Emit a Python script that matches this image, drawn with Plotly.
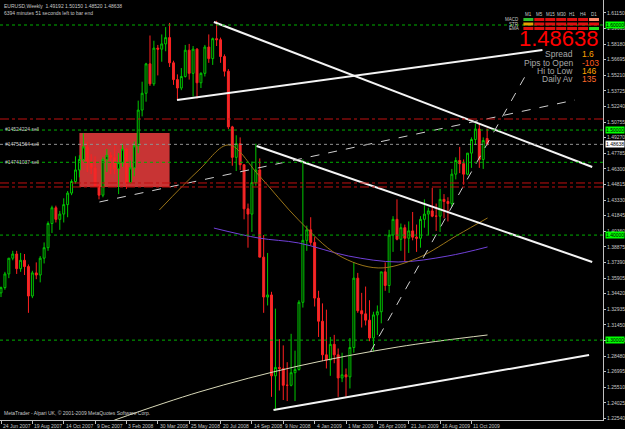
import plotly.graph_objects as go

# ---------------- data ----------------
opens = [1.3450,1.3500,1.3630,1.3780,1.3820,1.3680,1.3760,1.3700,1.3420,1.3640,1.3620,1.3780,1.3880,1.4110,1.4260,1.4150,1.4200,1.4290,1.4400,1.4510,1.4620,1.4720,1.4840,1.4700,1.4640,1.4470,1.4380,1.4720,
         1.4760,1.4740,1.4630,1.4690,1.4820,1.4500,1.4640,1.4850,1.5190,1.5350,1.5630,1.5440,1.5780,1.5770,1.5820,1.5880,1.5640,1.5480,1.5400,1.5510,1.5760,1.5540,1.5770,1.5450,1.5540,1.5790,1.5680,1.5870,1.5860,1.5700,
         1.5560,1.5030,1.4740,1.4870,1.4670,1.4250,1.4200,1.4500,1.4620,1.3790,1.3410,1.3430,1.2660,1.2740,1.2730,1.2570,1.2570,1.2690,1.2720,1.3360,1.3950,1.4050,
         1.3930,1.3400,1.3180,1.2860,1.2810,1.2960,1.2860,1.2640,1.2670,1.2650,1.2930,1.3590,1.3280,1.3250,1.3190,1.3020,1.3240,1.3270,1.3650,1.3520,1.4000,1.4150,
         1.3960,1.4070,1.3970,1.4040,1.3980,1.3970,1.4150,1.4200,1.4230,1.4180,1.4180,1.4340,1.4320,1.4300,1.4580,1.4710,1.4680,1.4580,1.4780,1.4910,1.5010,1.4720,1.49192]
highs = [1.3510,1.3650,1.3780,1.3850,1.3850,1.3830,1.3820,1.3720,1.3660,1.3740,1.3800,1.3930,1.4130,1.4280,1.4280,1.4230,1.4350,1.4420,1.4530,1.4750,1.4760,1.4970,1.4890,1.4770,1.4750,1.4490,1.4740,1.4820,
         1.4790,1.4860,1.4780,1.4870,1.4830,1.4710,1.4890,1.5280,1.5460,1.5640,1.5900,1.5850,1.5810,1.5910,1.5980,1.6020,1.5660,1.5530,1.5590,1.5810,1.5820,1.5800,1.5780,1.5550,1.5810,1.5910,1.5880,1.6040,1.5880,1.5720,
         1.5580,1.5040,1.4950,1.4930,1.4670,1.4300,1.4700,1.4870,1.4730,1.4000,1.3830,1.3460,1.3300,1.3010,1.2950,1.2790,1.3060,1.2900,1.3380,1.4720,1.4090,1.4170,
         1.3980,1.3470,1.3350,1.3290,1.3030,1.3050,1.2920,1.2880,1.2730,1.3020,1.3740,1.3640,1.3450,1.3510,1.3380,1.3270,1.3330,1.3650,1.3740,1.4050,1.4180,1.4340,
         1.4110,1.4100,1.4130,1.4220,1.4100,1.4180,1.4340,1.4260,1.4450,1.4300,1.4440,1.4390,1.4360,1.4630,1.4740,1.4840,1.4720,1.4780,1.4930,1.5060,1.5060,1.4930,1.50150]
lows  = [1.3410,1.3480,1.3590,1.3760,1.3630,1.3650,1.3620,1.3260,1.3400,1.3580,1.3550,1.3730,1.3850,1.4020,1.4120,1.4050,1.4120,1.4170,1.4380,1.4490,1.4550,1.4700,1.4600,1.4580,1.4460,1.4340,1.4360,1.4600,
         1.4580,1.4580,1.4390,1.4650,1.4440,1.4490,1.4560,1.4780,1.5130,1.5270,1.5420,1.5420,1.5520,1.5650,1.5750,1.5600,1.5430,1.5290,1.5380,1.5500,1.5480,1.5320,1.5300,1.5400,1.5510,1.5640,1.5620,1.5800,1.5640,1.5510,
         1.5010,1.4660,1.4610,1.4620,1.4150,1.3880,1.4030,1.4470,1.3790,1.3260,1.3330,1.2460,1.2330,1.2520,1.2430,1.2420,1.2560,1.2420,1.2710,1.3310,1.3850,1.3900,
         1.3320,1.3030,1.2800,1.2730,1.2660,1.2780,1.2460,1.2600,1.2460,1.2540,1.2880,1.3260,1.3120,1.3140,1.2990,1.2890,1.3050,1.3160,1.3470,1.3450,1.3840,1.3950,
         1.3850,1.3750,1.3830,1.3950,1.3840,1.3880,1.4070,1.4000,1.4170,1.4040,1.4030,1.4160,1.4130,1.4270,1.4530,1.4590,1.4480,1.4570,1.4640,1.4860,1.4640,1.4630,1.48520]
closes = [1.3500,1.3630,1.3780,1.3820,1.3680,1.3760,1.3700,1.3420,1.3640,1.3620,1.3780,1.3880,1.4110,1.4260,1.4150,1.4200,1.4290,1.4400,1.4510,1.4620,1.4720,1.4840,1.4700,1.4640,1.4470,1.4380,1.4720,1.4760,
          1.4740,1.4630,1.4690,1.4820,1.4500,1.4640,1.4850,1.5190,1.5350,1.5630,1.5440,1.5780,1.5770,1.5820,1.5880,1.5640,1.5480,1.5400,1.5510,1.5760,1.5540,1.5770,1.5450,1.5540,1.5790,1.5680,1.5870,1.5860,1.5700,1.5560,
          1.5030,1.4740,1.4870,1.4670,1.4250,1.4200,1.4500,1.4620,1.3790,1.3410,1.3430,1.2660,1.2740,1.2730,1.2570,1.2570,1.2690,1.2720,1.3360,1.3950,1.4050,1.3930,
          1.3400,1.3180,1.2860,1.2810,1.2960,1.2860,1.2640,1.2670,1.2650,1.2930,1.3590,1.3280,1.3250,1.3190,1.3020,1.3240,1.3270,1.3650,1.3520,1.4000,1.4150,1.3960,
          1.4070,1.3970,1.4040,1.3980,1.3970,1.4150,1.4200,1.4230,1.4180,1.4180,1.4340,1.4320,1.4300,1.4580,1.4710,1.4680,1.4580,1.4780,1.4910,1.5010,1.4720,1.4900,1.48638]
bars = list(range(len(closes)))

date_ticks = [0, 8, 16, 24, 32, 40, 48, 56, 64, 72, 80, 88, 96, 104, 112, 120]
date_labels = ["24 Jun 2007", "19 Aug 2007", "14 Oct 2007", "9 Dec 2007", "3 Feb 2008", "30 Mar 2008",
               "25 May 2008", "20 Jul 2008", "14 Sep 2008", "9 Nov 2008", "4 Jan 2009", "1 Mar 2009",
               "26 Apr 2009", "21 Jun 2009", "16 Aug 2009", "11 Oct 2009"]
price_ticks = [1.22540, 1.24025, 1.25510, 1.26995, 1.28480, 1.29965, 1.31450, 1.32935, 1.34420, 1.35905,
               1.37390, 1.38875, 1.40360, 1.41845, 1.43330, 1.44815, 1.46300, 1.47785, 1.49270, 1.50755,
               1.52240, 1.53725, 1.55210, 1.56695, 1.58180, 1.59665, 1.61150]

# moving averages (sparse vertices)
ma_brown_x = [40.4, 50.5, 58.1, 65.7, 75.9, 86.0, 96.2, 106.3, 116.5, 124.1]
ma_brown_y = [1.4239, 1.4620, 1.4858, 1.4572, 1.4144, 1.3810, 1.3687, 1.3782, 1.4001, 1.4163]
ma_purple_x = [54.3, 65.7, 75.9, 88.6, 101.3, 114.0, 124.1]
ma_purple_y = [1.4067, 1.3972, 1.3925, 1.3801, 1.3744, 1.3801, 1.3887]
ma_gray_x = [28.9, 50.5, 75.9, 101.3, 124.1]
ma_gray_y = [1.2238, 1.2506, 1.2754, 1.2935, 1.3049]

# trend lines: (bar0, price0, bar1, price1)
solid_lines = [(44.9, 1.5286, 138.1, 1.5762), (54.3, 1.6029, 150.8, 1.4648),
               (65.2, 1.4848, 150.8, 1.3744), (69.5, 1.2335, 150.0, 1.2858)]
dashed_lines = [(25.1, 1.4315, 146.4, 1.5286), (94.2, 1.2887, 134.3, 1.5553)]

green_levels = [1.6000, 1.5000, 1.4693, 1.4000, 1.3000]
red_levels = [1.5105, 1.4496, 1.4458]
order_level = 1.48638
box = (20.0, 43.0, 1.4458, 1.4972)

last_price = "1.48638"
info_labels = ["Spread", "Pips to Open", "Hi to Low", "Daily Av"]
info_values = ["1.6", "-103", "146", "135"]
info_colors = ["#ffa500", "#ff5a1e", "#ffa500", "#ff6a28"]
tf_labels = ["M1", "M5", "M15", "M30", "H1", "H4", "D1"]
ind_labels = ["MACD", "STR", "EMA"]
ind_colors = [["#30c030", "#e01010", "#e01010", "#e01010", "#e01010", "#e01010", "#ff8a6a"],
              ["#e8a000", "#e01010", "#e01010", "#e01010", "#e01010", "#e01010", "#e01010"],
              ["#e01010", "#e01010", "#e01010", "#e01010", "#e01010", "#e01010", "#20e020"]]

# ---------------- figure ----------------
W, H = 625, 429
PW, PH = 606, 420   # plot area in pixels
PX_PER_BAR = 3.94
X0 = -1 / PX_PER_BAR
X1 = X0 + PW / PX_PER_BAR
Y1 = 1.6238
Y0 = Y1 - 0.000952 * PH

def px(x):
    return x / PW

def py(y):
    return 1 - y / PH

fig = go.Figure()

fig.add_trace(go.Candlestick(
    x=bars, open=opens, high=highs, low=lows, close=closes,
    increasing=dict(line=dict(color="#00c800", width=1), fillcolor="#000000"),
    decreasing=dict(line=dict(color="#ff2020", width=1), fillcolor="#e83030"),
    whiskerwidth=0, showlegend=False, hoverinfo="skip"))

fig.add_trace(go.Scatter(x=ma_gray_x, y=ma_gray_y, mode="lines", line=dict(color="#d8d8b8", width=1, shape="spline"), showlegend=False))
fig.add_trace(go.Scatter(x=ma_purple_x, y=ma_purple_y, mode="lines", line=dict(color="#7040d8", width=1, shape="spline"), showlegend=False))
fig.add_trace(go.Scatter(x=ma_brown_x, y=ma_brown_y, mode="lines", line=dict(color="#9a7418", width=1, shape="spline"), showlegend=False))

for (a, pa, b, pb) in solid_lines:
    fig.add_trace(go.Scatter(x=[a, b], y=[pa, pb], mode="lines", line=dict(color="#f4f4f4", width=2), showlegend=False))
for (a, pa, b, pb) in dashed_lines:
    fig.add_trace(go.Scatter(x=[a, b], y=[pa, pb], mode="lines", line=dict(color="#d0d0d0", width=1, dash="dash"), showlegend=False))

shapes = []
shapes.append(dict(type="rect", xref="x", yref="y", x0=box[0], x1=box[1], y0=box[2], y1=box[3],
                   fillcolor="#c83434", line=dict(width=0), layer="below"))
for lv in green_levels:
    shapes.append(dict(type="line", xref="paper", yref="y", x0=0, x1=1, y0=lv, y1=lv,
                       line=dict(color="#00b000", width=1, dash="dot")))
for lv in red_levels:
    shapes.append(dict(type="line", xref="paper", yref="y", x0=0, x1=1, y0=lv, y1=lv,
                       line=dict(color="#c01010", width=1, dash="dashdot")))
shapes.append(dict(type="line", xref="paper", yref="y", x0=0, x1=1, y0=order_level, y1=order_level,
                   line=dict(color="#909090", width=1, dash="dot")))

# indicator grid
col_x = [526, 537, 548, 559, 570, 581, 592]
row_y = [18, 22.5, 27]
for r, row in enumerate(ind_colors):
    for c, colr in enumerate(row):
        shapes.append(dict(type="rect", xref="paper", yref="paper",
                           x0=px(col_x[c]), x1=px(col_x[c] + 10), y0=py(row_y[r] + 3), y1=py(row_y[r]),
                           fillcolor=colr, line=dict(width=0)))

ann = []
small = dict(family="Liberation Sans, Arial", size=5, color="#c8c8c8")
ann.append(dict(x=px(2), y=py(1), xref="paper", yref="paper", xanchor="left", yanchor="top", showarrow=False,
                text="EURUSD,Weekly  1.49192 1.50150 1.48520 1.48638", font=small))
ann.append(dict(x=px(2), y=py(7.5), xref="paper", yref="paper", xanchor="left", yanchor="top", showarrow=False,
                text="6394 minutes 51 seconds left to bar end", font=small))
ann.append(dict(x=px(2), y=py(408), xref="paper", yref="paper", xanchor="left", yanchor="top", showarrow=False,
                text="MetaTrader - Alpari UK, © 2001-2009 MetaQuotes Software Corp.", font=small))
for t, yy in [("#14524224 sell", 124), ("#14751564 sell", 139), ("#14741037 sell", 157)]:
    ann.append(dict(x=px(3), y=py(yy), xref="paper", yref="paper", xanchor="left", yanchor="top", showarrow=False,
                    text=t, font=small))
# date labels
for i, lab in zip(date_ticks, date_labels):
    ann.append(dict(x=i, y=0, xref="x", yref="paper", xanchor="left", yanchor="top", xshift=0, yshift=-1,
                    showarrow=False, text=lab, font=small))
# big price
ann.append(dict(x=px(604), y=py(38.5), xref="paper", yref="paper", xanchor="right", yanchor="middle", showarrow=False,
                text=last_price, font=dict(family="Liberation Sans, Arial", size=22, color="#ff0000")))
for k, (lab, val, colr) in enumerate(zip(info_labels, info_values, info_colors)):
    yy = 54.5 + k * 8.2
    ann.append(dict(x=px(578), y=py(yy), xref="paper", yref="paper", xanchor="right", yanchor="middle", showarrow=False,
                    text=lab, font=dict(family="Liberation Sans, Arial", size=8.5, color="#a8a8a8")))
    ann.append(dict(x=px(583), y=py(yy), xref="paper", yref="paper", xanchor="left", yanchor="middle", showarrow=False,
                    text=val, font=dict(family="Liberation Sans, Arial", size=8.5, color=colr)))
for c, lab in enumerate(tf_labels):
    ann.append(dict(x=px(col_x[c] + 5), y=py(14.5), xref="paper", yref="paper", xanchor="center", yanchor="middle",
                    showarrow=False, text=lab, font=dict(family="Liberation Sans, Arial", size=4.5, color="#c8c8c8")))
for r, lab in enumerate(ind_labels):
    ann.append(dict(x=px(524), y=py(row_y[r] + 1.5), xref="paper", yref="paper", xanchor="right", yanchor="middle",
                    showarrow=False, text=lab, font=dict(family="Liberation Sans, Arial", size=4.5, color="#c8c8c8")))
# axis price boxes
for lv, bg in [(1.6000, "#00ff00"), (1.5000, "#00ff00"), (1.4000, "#00ff00"), (1.3000, "#00ff00"), (order_level, "#ffffff")]:
    ann.append(dict(x=1, y=lv, xref="paper", yref="y", xanchor="left", yanchor="middle", xshift=2, showarrow=False,
                    text="%.5f" % lv, bgcolor=bg, borderpad=0,
                    font=dict(family="Liberation Sans, Arial", size=5, color="#000000")))

fig.update_layout(
    width=W, height=H, paper_bgcolor="#000000", plot_bgcolor="#000000",
    margin=dict(l=0, r=W - PW, t=0, b=H - PH),
    shapes=shapes, annotations=ann, showlegend=False,
    xaxis=dict(range=[X0, X1], rangeslider=dict(visible=False), showgrid=False, zeroline=False,
               showticklabels=False, tickvals=date_ticks, ticks="outside", ticklen=3, tickcolor="#c0c0c0",
               showline=True, linecolor="#c0c0c0", linewidth=1),
    yaxis=dict(range=[Y0, Y1], side="right", showgrid=False, zeroline=False,
               tickvals=price_ticks, ticktext=["%.5f" % v for v in price_ticks],
               ticks="outside", ticklen=2, tickcolor="#c0c0c0",
               tickfont=dict(family="Liberation Sans, Arial", size=5, color="#c8c8c8"),
               showline=True, linecolor="#c0c0c0", linewidth=1),
)

fig.write_html("out.html")
